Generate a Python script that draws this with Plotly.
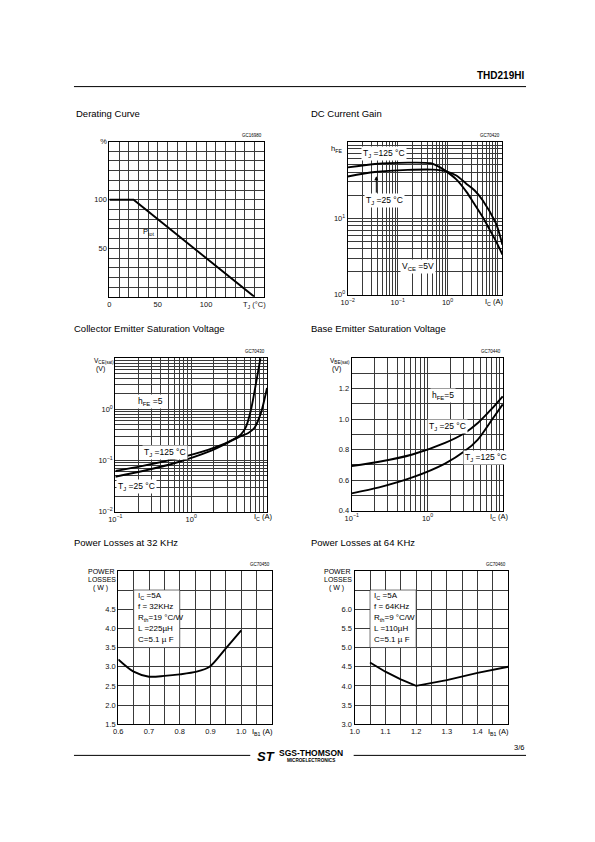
import plotly.graph_objects as go

W, H = 595, 842

# ---------------- data ----------------
der_tj = [0, 25, 150]
der_ptot = [100, 100, 0]

hfe_ic_125 = [0.01, 0.035, 0.16, 0.46, 0.71, 1.04, 1.5, 2.4, 3.2, 5.0, 6.9, 9.5, 12.6]
hfe_125 = [46, 51, 53, 52, 46, 39, 32, 22, 16.5, 10.5, 7.2, 4.9, 3.35]
hfe_ic_25 = [0.01, 0.035, 0.16, 0.5, 0.98, 1.5, 2.4, 3.5, 5.1, 9.3, 10.5, 12.6]
hfe_25 = [35, 40, 42.6, 43, 40.5, 36, 28, 23, 17, 8.6, 6.9, 4.5]

vce_ic_125 = [0.1, 0.23, 0.63, 1.7, 3.1, 4.6, 5.3, 6.2, 7.2, 8.2]
vce_125 = [0.062, 0.078, 0.108, 0.163, 0.23, 0.33, 0.46, 1.04, 3.4, 10]
vce_ic_25 = [0.1, 0.23, 0.63, 1.7, 3.1, 4.5, 5.6, 6.8, 8.3, 10]
vce_25 = [0.048, 0.062, 0.09, 0.148, 0.225, 0.3, 0.34, 0.43, 0.84, 2.6]

vbe_ic = [0.1, 0.23, 0.63, 1.7, 3.1, 4.6, 6.8, 9.8]
vbe_25 = [0.692, 0.72, 0.768, 0.844, 0.909, 0.974, 1.06, 1.15]
vbe_125 = [0.513, 0.552, 0.617, 0.708, 0.79, 0.866, 0.984, 1.097]

pl32_ib = [0.6, 0.65, 0.7, 0.75, 0.8, 0.855, 0.897, 0.95, 1.0]
pl32_p = [3.19, 2.87, 2.74, 2.76, 2.80, 2.87, 3.0, 3.48, 3.95]

pl64_ib = [1.05, 1.1, 1.15, 1.2, 1.3, 1.4, 1.5]
pl64_p = [4.61, 4.37, 4.17, 4.0, 4.15, 4.34, 4.5]

# tick labels
der_x_lbl = {0: "0", 50: "50", 100: "100", 150: "T<sub>J</sub> (°C)"}
der_y_lbl = {50: "50", 100: "100", 160: "%"}
pl32_x_lbl = {0.6: "0.6", 0.7: "0.7", 0.8: "0.8", 0.9: "0.9", 1.0: "1.0"}
pl32_y_lbl = {1.5: "1.5", 2.0: "2.0", 2.5: "2.5", 3.0: "3.0", 3.5: "3.5", 4.0: "4.0", 4.5: "4.5"}
pl64_x_lbl = {1.0: "1.0", 1.1: "1.1", 1.2: "1.2", 1.3: "1.3", 1.4: "1.4"}
pl64_y_lbl = {3.0: "3.0", 3.5: "3.5", 4.0: "4.0", 4.5: "4.5", 5.0: "5.0", 5.5: "5.5", 6.0: "6.0"}
vbe_y_lbl = {0.4: "0.4", 0.6: "0.6", 0.8: "0.8", 1.0: "1.0", 1.2: "1.2"}

pl32_text = ["I<sub>C</sub> =5A", "f = 32KHz", "R<sub>th</sub>=19 °C/W", "L =225µH", "C=5.1 µ F"]
pl64_text = ["I<sub>C</sub> =5A", "f = 64KHz", "R<sub>th</sub>=9 °C/W", "L =110µH", "C=5.1 µ F"]

FONT = "Liberation Sans, Arial, sans-serif"
GRID = "#3a3a3a"


def P(px, py):
    return px / W, 1 - py / H


def lin_vals(a, b, step):
    n = int(round((b - a) / step))
    return [round(a + i * step, 6) for i in range(n + 1)]


def log_vals(lo_exp, hi_val):
    vals = []
    e = lo_exp
    while True:
        for k in range(1, 10):
            v = k * 10 ** e
            if v > hi_val * 1.0001:
                return vals
            vals.append(round(v, 10))
        e += 1


def dec_label(e):
    s = str(e).replace("-", "−")
    return "10<sup>%s</sup>" % s


fig = go.Figure()

panels = [
    ("1", (104, 261, 139, 296)),
    ("2", (346, 503, 139, 294)),
    ("3", (110, 264, 358, 513)),
    ("4", (350, 504, 358, 512)),
    ("5", (113, 269, 573, 728)),
    ("6", (353, 509, 573, 728)),
]

axis_cfg = {}


def set_axes(idx, box, xtype, xrange, xgrid, xlbl, ytype, yrange, ygrid, ylbl):
    l, r, t, b = box
    xs = "xaxis" if idx == 1 else "xaxis%d" % idx
    ys = "yaxis" if idx == 1 else "yaxis%d" % idx
    xt = [xlbl.get(v, "") for v in xgrid]
    yt = [ylbl.get(v, "") for v in ygrid]
    common = dict(showgrid=True, gridcolor=GRID, gridwidth=0.7, zeroline=False,
                  showline=True, linecolor="black", linewidth=1.2, mirror=True,
                  ticks="", tickfont=dict(family=FONT, size=7.5, color="#111"),
                  tickmode="array", fixedrange=True)
    axis_cfg[xs] = dict(common, type=xtype, range=xrange, tickvals=xgrid, ticktext=xt,
                        domain=[l / W, r / W], anchor="y" if idx == 1 else "y%d" % idx)
    axis_cfg[ys] = dict(common, type=ytype, range=yrange, tickvals=ygrid, ticktext=yt,
                        domain=[1 - b / H, 1 - t / H], anchor="x" if idx == 1 else "x%d" % idx)


set_axes(1, panels[0][1], "linear", [0, 160], lin_vals(0, 160, 10), der_x_lbl,
         "linear", [0, 160], lin_vals(0, 160, 10), der_y_lbl)
set_axes(2, panels[1][1], "log", [-2, 1.1], log_vals(-2, 12.6),
         {0.01: dec_label(-2), 0.1: dec_label(-1), 1: dec_label(0)},
         "log", [0, 2], log_vals(0, 100), {1: dec_label(0), 10: dec_label(1)})
set_axes(3, panels[2][1], "log", [-1, 1], log_vals(-1, 10), {0.1: dec_label(-1), 1: dec_label(0)},
         "log", [-2, 1], log_vals(-2, 10), {0.01: dec_label(-2), 0.1: dec_label(-1), 1: dec_label(0)})
set_axes(4, panels[3][1], "log", [-1, 1], log_vals(-1, 10), {0.1: dec_label(-1), 1: dec_label(0)},
         "linear", [0.4, 1.4], lin_vals(0.4, 1.4, 0.1), vbe_y_lbl)
set_axes(5, panels[4][1], "linear", [0.6, 1.1], lin_vals(0.6, 1.1, 0.05), pl32_x_lbl,
         "linear", [1.5, 5.5], lin_vals(1.5, 5.5, 0.5), pl32_y_lbl)
set_axes(6, panels[5][1], "linear", [1.0, 1.5], lin_vals(1.0, 1.5, 0.05), pl64_x_lbl,
         "linear", [3.0, 7.0], lin_vals(3.0, 7.0, 0.5), pl64_y_lbl)

LINE = dict(color="black", width=1.9)


def add(x, y, idx, shape="spline"):
    fig.add_trace(go.Scatter(x=x, y=y, mode="lines", line=dict(LINE, shape=shape, smoothing=0.8),
                             xaxis="x" if idx == 1 else "x%d" % idx,
                             yaxis="y" if idx == 1 else "y%d" % idx,
                             showlegend=False, hoverinfo="skip"))


add(der_tj, der_ptot, 1, "linear")
add(hfe_ic_125, hfe_125, 2)
add(hfe_ic_25, hfe_25, 2)
add(vce_ic_125, vce_125, 3)
add(vce_ic_25, vce_25, 3)
add(vbe_ic, vbe_25, 4)
add(vbe_ic, vbe_125, 4)
add(pl32_ib, pl32_p, 5)
add(pl64_ib, pl64_p, 6, "linear")

ann = []


def txt(px, py, text, size=7.5, xanchor="center", yanchor="middle", bg=None):
    x, y = P(px, py)
    d = dict(x=x, y=y, xref="paper", yref="paper", text=text, showarrow=False,
             xanchor=xanchor, yanchor=yanchor,
             font=dict(family=FONT, size=size, color="black"))
    if bg:
        d["bgcolor"] = bg
        d["borderpad"] = 1
    ann.append(d)


LBL = 8.5

# titles
txt(68, 111, "Derating Curve", 9.5, "left")
txt(307, 111, "DC Current Gain", 9.5, "left")
txt(66, 328, "Collector Emitter Saturation Voltage", 9.5, "left")
txt(307, 328, "Base Emitter Saturation Voltage", 9.5, "left")
txt(66, 544, "Power Losses at 32 KHz", 9.5, "left")
txt(307, 544, "Power Losses at 64 KHz", 9.5, "left")

for (l, r, t, b), code in zip([p[1] for p in panels],
                              ["GC16980", "GC70420", "GC70430", "GC70440", "GC70450", "GC70460"]):
    txt(r, t - 2, code, 4.5, "right", "bottom")

txt(144, 230, "P<sub>tot</sub>", 7.5)

txt(335, 147, "h<sub>FE</sub>", 7.5)
txt(494, 301, "I<sub>C</sub> (A)", 7.5)
txt(383, 151, "T<sub>J</sub> =125 °C", LBL, bg="white")
txt(383, 199, "T<sub>J</sub> =25 °C", LBL, bg="white")
txt(417, 265, "V<sub>CE</sub> =5V", LBL, bg="white")
ax0, ay0 = P(375, 174)
ann.append(dict(x=ax0, y=ay0, xref="paper", yref="paper", text="", showarrow=True,
                ax=0, ay=18, arrowhead=2, arrowsize=0.8, arrowwidth=1, arrowcolor="black"))

txt(98, 361, "V<sub>CE(sat)</sub>", 6.5)
txt(95, 369, "(V)", 7)
txt(260, 519, "I<sub>C</sub> (A)", 7.5)
txt(146, 402, "h<sub>FE</sub> =5", LBL, bg="white")
txt(160, 453, "T<sub>J</sub> =125 °C", LBL, bg="white")
txt(131, 488, "T<sub>J</sub> =25 °C", LBL, bg="white")

txt(338, 361, "V<sub>BE(sat)</sub>", 6.5)
txt(335, 369, "(V)", 7)
txt(500, 519, "I<sub>C</sub> (A)", 7.5)
txt(443, 396, "h<sub>FE</sub>=5", LBL, bg="white")
txt(447, 427, "T<sub>J</sub> =25 °C", LBL, bg="white")
txt(486, 458, "T<sub>J</sub> =125 °C", LBL, bg="white")

for dx, lines_, xlab in [(0, pl32_text, 259), (240, pl64_text, 499)]:
    txt(95 + dx, 574, "POWER", 7)
    txt(96 + dx, 582, "LOSSES", 7)
    txt(95 + dx, 590, "( W )", 7)
    txt(xlab, 736, "I<sub>B1</sub> (A)", 7.5)
    for i, s in enumerate(lines_):
        txt(131 + dx, 598 + i * 11.2, s, 8, "left")

txt(527, 72, "<b>THD219HI</b>", 10, "right")
txt(527, 752, "3/6", 7.5, "right")
txt(263, 761, "<b><i>ST</i></b>", 13)
txt(309, 757, "<b>SGS-THOMSON</b>", 8.5)
txt(309, 764.5, "<b>MICROELECTRONICS</b>", 4.6)

shapes = []


def hline(x0, x1, y, w=1):
    a0, b0 = P(x0, y)
    a1, _ = P(x1, y)
    shapes.append(dict(type="line", xref="paper", yref="paper", x0=a0, x1=a1, y0=b0, y1=b0,
                       line=dict(color="black", width=w)))


hline(68, 527, 83.5)
hline(68, 247, 759.5)
hline(352, 527, 759.5)

shapes.append(dict(type="rect", xref="x5", yref="y5", x0=0.65, x1=0.8, y0=3.5, y1=5.0,
                   fillcolor="white", line=dict(color=GRID, width=0.7), layer="above"))
shapes.append(dict(type="rect", xref="x6", yref="y6", x0=1.05, x1=1.2, y0=5.0, y1=6.5,
                   fillcolor="white", line=dict(color=GRID, width=0.7), layer="above"))

fig.update_layout(width=W, height=H, autosize=False, margin=dict(l=0, r=0, t=0, b=0),
                  paper_bgcolor="white", plot_bgcolor="white", showlegend=False,
                  annotations=ann, shapes=shapes, font=dict(family=FONT), **axis_cfg)

fig.write_html("out.html", config={"displayModeBar": False},
               post_script="document.body.style.margin='0';document.body.style.overflow='hidden';")
